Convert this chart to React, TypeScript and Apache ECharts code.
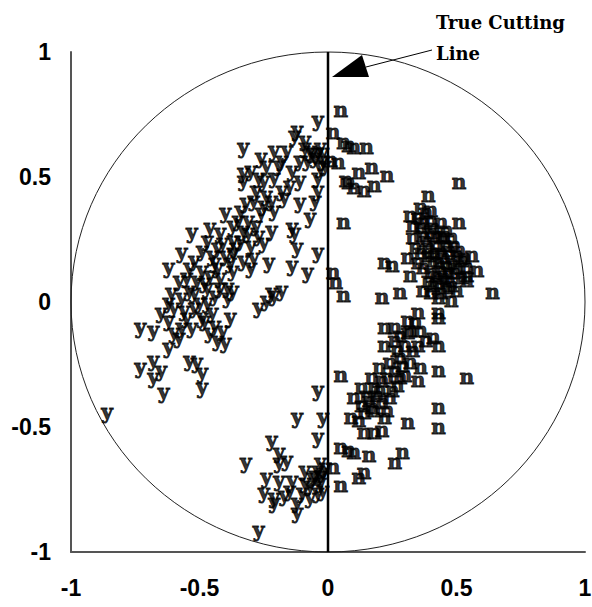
import React, { useEffect, useRef } from "react";
import * as echarts from "echarts";

const xTicks = [-1, -0.5, 0, 0.5, 1];
const yTicks = [-1, -0.5, 0, 0.5, 1];

// legislators voting Yea (left of cutting line)
const yeaVotes: [number, number][] = [
  [-0.04, 0.73], [-0.12, 0.69], [-0.13, 0.67], [-0.33, 0.62], [-0.26, 0.58], [-0.21, 0.61],
  [-0.16, 0.61], [-0.09, 0.62], [-0.07, 0.61], [-0.04, 0.6], [-0.02, 0.57], [-0.33, 0.52],
  [-0.33, 0.49], [-0.25, 0.49], [-0.21, 0.5], [-0.14, 0.53], [-0.11, 0.49], [-0.04, 0.5],
  [-0.03, 0.54], [-0.29, 0.41], [-0.22, 0.41], [-0.17, 0.42], [-0.11, 0.4], [-0.04, 0.45],
  [-0.05, 0.41], [-0.4, 0.36], [-0.34, 0.37], [-0.31, 0.33], [-0.26, 0.36], [-0.21, 0.37],
  [-0.14, 0.3], [-0.07, 0.34], [-0.53, 0.28], [-0.46, 0.3], [-0.42, 0.28], [-0.37, 0.25],
  [-0.31, 0.28], [-0.25, 0.24], [-0.13, 0.28], [-0.12, 0.22], [-0.04, 0.2], [-0.57, 0.2],
  [-0.49, 0.21], [-0.43, 0.22], [-0.37, 0.2], [-0.29, 0.18], [-0.23, 0.16], [-0.62, 0.14],
  [-0.54, 0.14], [-0.49, 0.13], [-0.43, 0.14], [-0.37, 0.13], [-0.3, 0.14], [-0.08, 0.12],
  [-0.61, 0.04], [-0.54, 0.05], [-0.47, 0.06], [-0.39, 0.06], [-0.22, 0.04], [-0.18, 0.05],
  [-0.44, 0.16], [-0.38, 0.16], [-0.33, 0.17], [-0.57, 0.02], [-0.52, 0.04], [-0.42, 0.06],
  [-0.37, 0.05], [-0.65, -0.04], [-0.6, -0.02], [-0.52, -0.02], [-0.47, 0.0], [-0.39, 0.02],
  [-0.27, -0.02], [-0.73, -0.1], [-0.68, -0.11], [-0.62, -0.07], [-0.57, -0.1], [-0.53, -0.1],
  [-0.48, -0.07], [-0.46, -0.12], [-0.43, -0.15], [-0.4, -0.16], [-0.38, -0.06], [-0.62, -0.18],
  [-0.73, -0.26], [-0.68, -0.23], [-0.65, -0.27], [-0.68, -0.3], [-0.54, -0.23], [-0.51, -0.24],
  [-0.49, -0.28], [-0.49, -0.34], [-0.64, -0.36], [-0.86, -0.44], [-0.24, 0.01], [-0.21, 0.03],
  [-0.14, 0.15], [-0.18, 0.57], [-0.24, 0.55], [-0.3, 0.53], [-0.11, 0.57], [-0.09, 0.65],
  [-0.18, 0.45], [-0.24, 0.43], [-0.37, 0.31], [-0.28, 0.31], [-0.22, 0.29], [-0.34, 0.25],
  [-0.3, 0.23], [-0.47, 0.25], [-0.4, 0.19], [-0.51, 0.09], [-0.46, 0.11], [-0.58, 0.09],
  [-0.49, -0.06], [-0.55, -0.06], [-0.44, -0.09],
  [-0.06, 0.6], [-0.03, 0.62], [-0.05, 0.58], [-0.08, 0.57], [-0.02, 0.6], [-0.01, 0.55],
  [-0.27, 0.5], [-0.19, 0.55], [-0.15, 0.47], [-0.28, 0.45], [-0.32, 0.4], [-0.25, 0.39],
  [-0.35, 0.33], [-0.27, 0.27], [-0.33, 0.29], [-0.41, 0.24], [-0.36, 0.22], [-0.45, 0.19],
  [-0.52, 0.17], [-0.55, 0.1], [-0.48, 0.08], [-0.42, 0.1], [-0.5, 0.0], [-0.44, 0.03],
  [-0.56, -0.03], [-0.62, 0.0], [-0.58, -0.14], [-0.45, -0.04], [-0.41, -0.11], [-0.6, -0.12],
  [-0.04, -0.35], [-0.12, -0.46], [-0.02, -0.46], [-0.04, -0.54], [-0.22, -0.55], [-0.32, -0.64],
  [-0.19, -0.6], [-0.16, -0.63], [-0.19, -0.64], [-0.24, -0.7], [-0.19, -0.71], [-0.14, -0.71],
  [-0.09, -0.67], [-0.09, -0.72], [-0.03, -0.64], [-0.02, -0.68], [-0.01, -0.66], [-0.25, -0.76],
  [-0.21, -0.78], [-0.21, -0.8], [-0.12, -0.8], [-0.12, -0.84], [-0.07, -0.78], [-0.04, -0.76],
  [-0.03, -0.72], [-0.27, -0.91], [-0.05, -0.69], [-0.04, -0.67],
  [-0.06, -0.7], [-0.03, -0.69], [-0.07, -0.73], [-0.02, -0.75], [-0.15, -0.75], [-0.17, -0.77],
  [-0.1, -0.76],
];

// legislators voting Nay (right of cutting line)
const nayVotes: [number, number][] = [
  [0.05, 0.77], [0.02, 0.68], [0.06, 0.64], [0.08, 0.63], [0.04, 0.56], [0.07, 0.49],
  [0.08, 0.48], [0.12, 0.52], [0.17, 0.54], [0.23, 0.51], [0.1, 0.46], [0.14, 0.45],
  [0.18, 0.47], [0.15, 0.62], [0.1, 0.62], [0.06, 0.32], [0.02, 0.12], [0.03, 0.08],
  [0.06, 0.03], [0.01, 0.57],
  [0.51, 0.48], [0.39, 0.43], [0.36, 0.38], [0.32, 0.35], [0.36, 0.3], [0.4, 0.33],
  [0.44, 0.32], [0.51, 0.32], [0.33, 0.26], [0.4, 0.28], [0.44, 0.26], [0.48, 0.26],
  [0.31, 0.18], [0.36, 0.2], [0.41, 0.2], [0.47, 0.21], [0.51, 0.21], [0.53, 0.18],
  [0.22, 0.16], [0.25, 0.15], [0.32, 0.11], [0.37, 0.14], [0.43, 0.16], [0.48, 0.16],
  [0.54, 0.14], [0.58, 0.13], [0.39, 0.09], [0.43, 0.08], [0.47, 0.09], [0.52, 0.1],
  [0.54, 0.09], [0.28, 0.04], [0.37, 0.05], [0.4, 0.04], [0.44, 0.04], [0.48, 0.01],
  [0.21, 0.02], [0.64, 0.04], [0.35, -0.04], [0.43, -0.04], [0.46, 0.23], [0.5, 0.14],
  [0.44, 0.13], [0.48, 0.07], [0.42, 0.23], [0.38, 0.25], [0.46, 0.29], [0.35, 0.34],
  [0.33, 0.31], [0.52, 0.17], [0.56, 0.19], [0.5, 0.05], [0.4, 0.12], [0.35, 0.16],
  [0.38, 0.36], [0.37, 0.32], [0.41, 0.3], [0.45, 0.27], [0.42, 0.27], [0.39, 0.22],
  [0.44, 0.2], [0.45, 0.18], [0.41, 0.17], [0.46, 0.15], [0.49, 0.12], [0.42, 0.11],
  [0.45, 0.1], [0.41, 0.07], [0.46, 0.06], [0.43, 0.02], [0.5, 0.19], [0.49, 0.23],
  [0.54, 0.11], [0.47, 0.12], [0.39, 0.19], [0.34, 0.22], [0.37, 0.27], [0.4, 0.37],
  [0.22, -0.1], [0.26, -0.1], [0.31, -0.07], [0.43, -0.06], [0.31, -0.12], [0.36, -0.11],
  [0.41, -0.14], [0.22, -0.17], [0.35, -0.17], [0.43, -0.17], [0.28, -0.22], [0.32, -0.24],
  [0.36, -0.26], [0.43, -0.27], [0.54, -0.3], [0.05, -0.29], [0.17, -0.3], [0.23, -0.3],
  [0.26, -0.27], [0.28, -0.3], [0.13, -0.34], [0.18, -0.34], [0.25, -0.35], [0.1, -0.38],
  [0.16, -0.39], [0.21, -0.4], [0.23, -0.43], [0.09, -0.46], [0.14, -0.44], [0.18, -0.43],
  [0.22, -0.46], [0.31, -0.48], [0.43, -0.42], [0.43, -0.5], [0.14, -0.52], [0.18, -0.52],
  [0.21, -0.51], [0.05, -0.58], [0.08, -0.59], [0.1, -0.6], [0.16, -0.61], [0.26, -0.64],
  [0.29, -0.6], [0.02, -0.66], [0.05, -0.73], [0.12, -0.7], [0.14, -0.68], [0.26, -0.15],
  [0.3, -0.17], [0.32, -0.11], [0.38, -0.15], [0.3, -0.29], [0.27, -0.33], [0.21, -0.31],
  [0.15, -0.37], [0.19, -0.37], [0.13, -0.41], [0.33, -0.19], [0.35, -0.31],
  [0.28, -0.13], [0.34, -0.08], [0.29, -0.25], [0.24, -0.38], [0.27, -0.19], [0.24, -0.24],
  [0.2, -0.35], [0.17, -0.42], [0.12, -0.47], [0.2, -0.26],
];

const cuttingLine: [number, number][] = [[0, -1], [0, 1]];
const unitCircleCenter: [number, number][] = [[0, 0]];

const annotationLines = ["True Cutting", "Line"];

export default function App() {
  const ref = useRef<HTMLDivElement>(null);

  useEffect(() => {
    document.body.style.margin = "0";
    if (!ref.current) return;
    const chart = echarts.init(ref.current, null, { renderer: "svg" });

    const letterLabel = (ch: string) => ({
      show: true,
      position: "inside" as const,
      formatter: ch,
      color: "#000",
      textBorderWidth: 0.9,
      textBorderColor: "#000",
      fontFamily: "DejaVu Serif",
      fontWeight: "bold" as const,
      fontSize: 20,
    });

    const axisCommon = {
      type: "value" as const,
      min: -1,
      max: 1,
      interval: 0.5,
      axisLine: { show: true, onZero: false, lineStyle: { color: "#555", width: 2 } },
      axisTick: { show: false },
      splitLine: { show: false },
    };

    const tickFont = {
      color: "#000",
      fontFamily: "Liberation Sans",
      fontWeight: "bold" as const,
      fontSize: 23,
    };

    chart.setOption({
      animation: false,
      backgroundColor: "#fff",
      grid: { left: 71, right: 7, top: 52, bottom: 55, containLabel: false, outerBoundsMode: "none" },
      xAxis: {
        ...axisCommon,
        axisLabel: {
          ...tickFont,
          margin: 24,
          formatter: (v: number) => (xTicks.includes(v) ? String(v) : ""),
        },
      },
      yAxis: {
        ...axisCommon,
        axisLabel: {
          ...tickFont,
          margin: 20,
          formatter: (v: number) => (yTicks.includes(v) ? String(v) : ""),
        },
      },
      series: [
        {
          type: "custom",
          data: unitCircleCenter,
          silent: true,
          clip: false,
          renderItem: (_params: any, api: any) => {
            const c = api.coord([0, 0]);
            const s = api.size([1, 1]);
            return {
              type: "ellipse",
              shape: { cx: c[0], cy: c[1], rx: s[0], ry: s[1] },
              style: { fill: "none", stroke: "#222", lineWidth: 1 },
            };
          },
          z: 1,
        },
        {
          type: "line",
          data: cuttingLine,
          symbol: "none",
          lineStyle: { color: "#000", width: 2.5 },
          z: 2,
        },
        {
          name: "Yea",
          type: "scatter",
          data: yeaVotes,
          symbolSize: 2,
          itemStyle: { color: "rgba(0,0,0,0)" },
          label: letterLabel("y"),
          labelLayout: { hideOverlap: false },
          z: 3,
        },
        {
          name: "Nay",
          type: "scatter",
          data: nayVotes,
          symbolSize: 2,
          itemStyle: { color: "rgba(0,0,0,0)" },
          label: letterLabel("n"),
          labelLayout: { hideOverlap: false },
          z: 3,
        },
      ],
      graphic: [
        {
          type: "line",
          shape: { x1: 432, y1: 50, x2: 366, y2: 67 },
          style: { stroke: "#000", lineWidth: 1 },
          z: 10,
        },
        {
          type: "polygon",
          shape: { points: [[332, 77], [362, 55], [369, 77]] },
          style: { fill: "#000" },
          z: 10,
        },
        {
          type: "text",
          x: 436,
          y: 22,
          style: {
            text: annotationLines[0],
            fill: "#000",
            font: "bold 18px 'DejaVu Serif'",
            verticalAlign: "middle",
            align: "left",
          },
          z: 10,
        },
        {
          type: "text",
          x: 436,
          y: 53,
          style: {
            text: annotationLines[1],
            fill: "#000",
            font: "bold 18px 'DejaVu Serif'",
            verticalAlign: "middle",
            align: "left",
          },
          z: 10,
        },
      ],
    });

    return () => chart.dispose();
  }, []);

  return <div ref={ref} style={{ width: 592, height: 607 }} />;
}
